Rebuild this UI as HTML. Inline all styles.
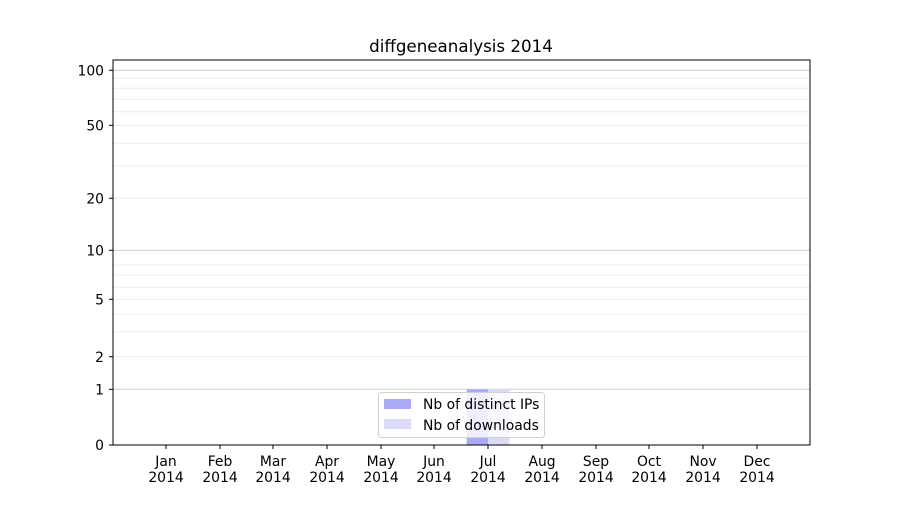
<!DOCTYPE html>
<html><head><style>body{margin:0;background:#fff}</style></head><body>
<svg width="900" height="500" xmlns="http://www.w3.org/2000/svg" font-family="DejaVu Sans, Liberation Sans, sans-serif" font-size="13.9">
<rect width="900" height="500" fill="#fff"/>
<g stroke="#ebebeb" stroke-width="1">
<line x1="113" x2="810" y1="78.3" y2="78.3"/><line x1="113" x2="810" y1="88.3" y2="88.3"/><line x1="113" x2="810" y1="99.3" y2="99.3"/><line x1="113" x2="810" y1="111.7" y2="111.7"/><line x1="113" x2="810" y1="125.3" y2="125.3"/><line x1="113" x2="810" y1="143.3" y2="143.3"/><line x1="113" x2="810" y1="166" y2="166"/><line x1="113" x2="810" y1="198.3" y2="198.3"/>
<line x1="113" x2="810" y1="265" y2="265"/><line x1="113" x2="810" y1="275" y2="275"/><line x1="113" x2="810" y1="287.3" y2="287.3"/><line x1="113" x2="810" y1="299.3" y2="299.3"/><line x1="113" x2="810" y1="314.3" y2="314.3"/><line x1="113" x2="810" y1="331.7" y2="331.7"/><line x1="113" x2="810" y1="356.7" y2="356.7"/>
</g>
<g stroke="#cfcfcf" stroke-width="1">
<line x1="113" x2="810" y1="70.3" y2="70.3"/><line x1="113" x2="810" y1="250.3" y2="250.3"/><line x1="113" x2="810" y1="389.3" y2="389.3"/>
</g>
<rect x="466.7" y="389.3" width="21.3" height="55.7" fill="#aaaaf8"/>
<rect x="488" y="389.3" width="21.3" height="55.7" fill="#dcdcfa"/>
<rect x="113" y="60" width="697" height="385" fill="none" stroke="#000" stroke-width="1"/>
<g stroke="#000"><line x1="109" x2="113" y1="70.3" y2="70.3"/><line x1="109" x2="113" y1="125.3" y2="125.3"/><line x1="109" x2="113" y1="198.3" y2="198.3"/><line x1="109" x2="113" y1="250.3" y2="250.3"/><line x1="109" x2="113" y1="299.3" y2="299.3"/><line x1="109" x2="113" y1="356.7" y2="356.7"/><line x1="109" x2="113" y1="389.3" y2="389.3"/><line x1="109" x2="113" y1="445" y2="445"/></g>
<g text-anchor="end"><text x="104" y="75.5">100</text><text x="104" y="130.5">50</text><text x="104" y="203.5">20</text><text x="104" y="255.5">10</text><text x="104" y="304.5">5</text><text x="104" y="362">2</text><text x="104" y="394.5">1</text><text x="104" y="450">0</text></g>
<g stroke="#000">
<line x1="166" x2="166" y1="445" y2="449"/><line x1="220" x2="220" y1="445" y2="449"/><line x1="273" x2="273" y1="445" y2="449"/><line x1="327" x2="327" y1="445" y2="449"/><line x1="381" x2="381" y1="445" y2="449"/><line x1="434" x2="434" y1="445" y2="449"/><line x1="488" x2="488" y1="445" y2="449"/><line x1="542" x2="542" y1="445" y2="449"/><line x1="596" x2="596" y1="445" y2="449"/><line x1="649" x2="649" y1="445" y2="449"/><line x1="703" x2="703" y1="445" y2="449"/><line x1="757" x2="757" y1="445" y2="449"/>
</g>
<g text-anchor="middle">
<text x="166" y="466">Jan</text><text x="220" y="466">Feb</text><text x="273" y="466">Mar</text><text x="327" y="466">Apr</text><text x="381" y="466">May</text><text x="434" y="466">Jun</text><text x="488" y="466">Jul</text><text x="542" y="466">Aug</text><text x="596" y="466">Sep</text><text x="649" y="466">Oct</text><text x="703" y="466">Nov</text><text x="757" y="466">Dec</text>
<text x="166" y="482">2014</text><text x="220" y="482">2014</text><text x="273" y="482">2014</text><text x="327" y="482">2014</text><text x="381" y="482">2014</text><text x="434" y="482">2014</text><text x="488" y="482">2014</text><text x="542" y="482">2014</text><text x="596" y="482">2014</text><text x="649" y="482">2014</text><text x="703" y="482">2014</text><text x="757" y="482">2014</text>
<text x="461" y="52" font-size="16.7">diffgeneanalysis 2014</text>
</g>
<rect x="378.5" y="392.5" width="166" height="45" rx="3" fill="#fff" fill-opacity="0.8" stroke="#d0d0d0"/>
<rect x="384" y="399" width="27" height="10" fill="#aaaaf8"/>
<rect x="384" y="419" width="27" height="10" fill="#dcdcfa"/>
<text x="423" y="409">Nb of distinct IPs</text>
<text x="423" y="430">Nb of downloads</text>
</svg>
</body></html>
